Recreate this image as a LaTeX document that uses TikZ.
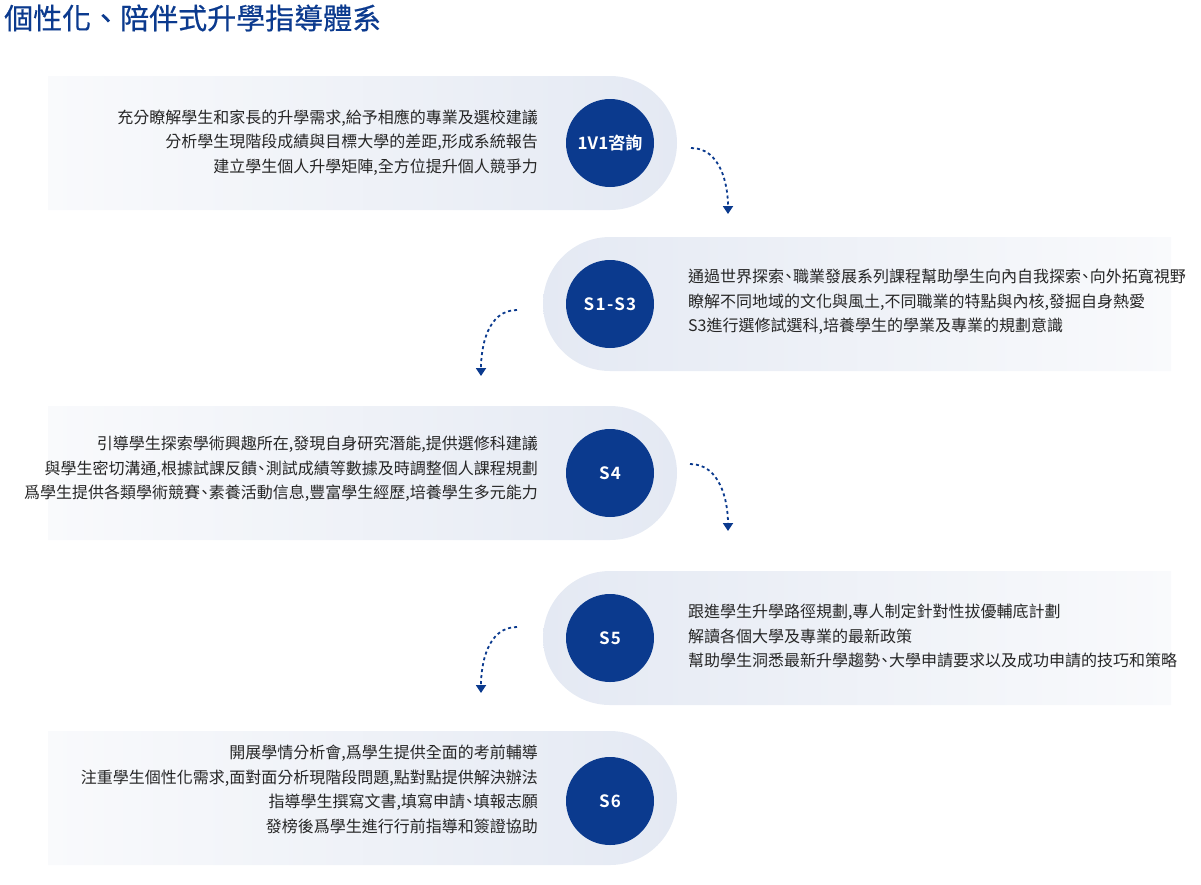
\documentclass[tikz,border=0pt]{standalone}
\usepackage{fontspec}
\setmainfont[BoldFont=Noto Sans CJK TC Bold]{Noto Sans CJK TC}
\newfontfamily\ttlfont[FakeBold=0.5]{Noto Sans CJK TC}
\usetikzlibrary{arrows.meta}
\definecolor{navy}{HTML}{0B3A8E}
\definecolor{band}{HTML}{E4E9F3}
\definecolor{bandfade}{HTML}{F9FAFC}
\definecolor{ink}{HTML}{262626}
% narrow enumeration comma, as set in the body text
\newcommand\dn{\makebox[.55em][c]{、}}
\tikzset{
  stp/.style={circle,fill=navy,minimum size=88pt,inner sep=0pt,text=white,font=\fontsize{17}{20}\selectfont\bfseries},
  stps/.style={stp,font=\fontsize{17}{20}\selectfont\bfseries\addfontfeature{LetterSpace=8}},
  txl/.style={anchor=west,align=left,inner sep=0pt,text=ink,font=\fontsize{16}{24.5}\selectfont},
  txr/.style={anchor=east,align=right,inner sep=0pt,text=ink,font=\fontsize{16}{24.5}\selectfont},
  ttl/.style={anchor=west,inner sep=0pt,text=navy,font=\fontsize{29}{31}\ttlfont},
  bndr/.style={left color=bandfade,right color=band},
  bndl/.style={left color=band,right color=bandfade},
  flow/.style={draw=navy,line width=1.8pt,dash pattern=on 3pt off 3pt,
    -{Triangle[length=8pt,width=10pt]}},
}
\begin{document}
\begin{tikzpicture}[x=1pt,y=-1pt]
\useasboundingbox (0,0) rectangle (1201,884);
\node[ttl] (title) at (4,18) {個性化、陪伴式升學指導體系};
% ---------------- 1V1: text on the left
\path[bndr] (48,76) -- (610,76) arc[start angle=-90,end angle=90,radius=67] -- (48,210) -- cycle;
\node[stp] (c1) at (610,143) {1V1咨詢};
\node[txr] (t1) at (538,142.5)
  {充分瞭解學生和家長的升學需求,給予相應的專業及選校建議\\
   分析學生現階段成績與目標大學的差距,形成系統報告\\
   建立學生個人升學矩陣,全方位提升個人競爭力};
% ---------------- S1-S3: text on the right
\path[bndl] (1171,237) -- (610,237) arc[start angle=-90,end angle=-270,radius=67] -- (1171,371) -- cycle;
\node[stps] (c2) at (610,304) {S1-S3};
\node[txl] (t2) at (688,302)
  {通過世界探索\dn 職業發展系列課程幫助學生向內自我探索\dn 向外拓寬視野\\
   瞭解不同地域的文化與風土,不同職業的特點與內核,發掘自身熱愛\\
   S3進行選修試選科,培養學生的學業及專業的規劃意識};
% ---------------- S4
\path[bndr] (48,406) -- (610,406) arc[start angle=-90,end angle=90,radius=67] -- (48,540) -- cycle;
\node[stps] (c3) at (610,473) {S4};
\node[txr] (t3) at (538,469)
  {引導學生探索學術興趣所在,發現自身研究潛能,提供選修科建議\\
   與學生密切溝通,根據試課反饋\dn 測試成績等數據及時調整個人課程規劃\\
   爲學生提供各類學術競賽\dn 素養活動信息,豐富學生經歷,培養學生多元能力};
% ---------------- S5
\path[bndl] (1171,571) -- (610,571) arc[start angle=-90,end angle=-270,radius=67] -- (1171,705) -- cycle;
\node[stps] (c4) at (610,638) {S5};
\node[txl] (t4) at (688,636)
  {跟進學生升學路徑規劃,專人制定針對性拔優輔底計劃\\
   解讀各個大學及專業的最新政策\\
   幫助學生洞悉最新升學趨勢\dn 大學申請要求以及成功申請的技巧和策略};
% ---------------- S6
\path[bndr] (48,731) -- (610,731) arc[start angle=-90,end angle=90,radius=67] -- (48,865) -- cycle;
\node[stps] (c5) at (610,801) {S6};
\node[txr] (t5) at (538,789.5)
  {開展學情分析會,爲學生提供全面的考前輔導\\
   注重學生個性化需求,面對面分析現階段問題,點對點提供解決辦法\\
   指導學生撰寫文書,填寫申請\dn 填報志願\\
   發榜後爲學生進行行前指導和簽證協助};
% ---------------- dotted turns between the bands
\coordinate (a1s) at (691,148); \coordinate (a1e) at (728,214);
\coordinate (a2s) at (517,310); \coordinate (a2e) at (481,376);
\coordinate (a3s) at (690,464); \coordinate (a3e) at (728,531);
\coordinate (a4s) at (517,627); \coordinate (a4e) at (481,693);
\draw[flow] (a1s) to[out=0,in=90] (a1e);
\draw[flow] (a2s) to[out=180,in=90] (a2e);
\draw[flow] (a3s) to[out=0,in=90] (a3e);
\draw[flow] (a4s) to[out=180,in=90] (a4e);
\end{tikzpicture}
\end{document}
